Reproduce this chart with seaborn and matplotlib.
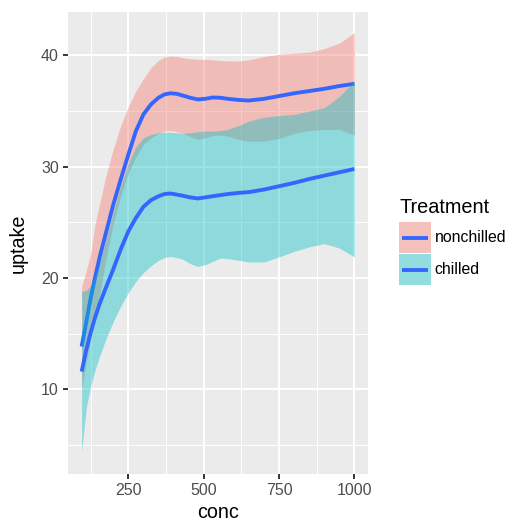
import matplotlib
matplotlib.use("Agg")
import matplotlib.pyplot as plt
from matplotlib.patches import Rectangle
from matplotlib.lines import Line2D
import seaborn as sns
import pandas as pd

# Smoothed CO2 uptake against ambient concentration, with confidence bands
conc = [95, 110, 125, 140, 155, 175, 200, 225, 250, 275, 300, 325, 350, 370, 390, 410,
        430, 455, 480, 505, 530, 555, 580, 615, 650, 700, 750, 800, 850, 900, 950, 1000]

nonchilled_fit = [13.85, 16.0, 18.2, 20.1, 21.9, 24.0, 26.6, 28.9, 31.1, 33.2, 34.7, 35.6,
                  36.2, 36.5, 36.6, 36.55, 36.4, 36.2, 36.05, 36.1, 36.22, 36.2, 36.1, 36.0,
                  35.95, 36.1, 36.35, 36.6, 36.8, 37.0, 37.25, 37.45]
nonchilled_lo = [10.0, 12.4, 14.6, 16.6, 18.6, 21.6, 24.9, 27.4, 29.4, 30.9, 32.0, 32.6,
                 33.0, 33.2, 33.25, 33.15, 33.0, 32.7, 32.45, 32.6, 32.8, 32.85, 32.75, 32.45,
                 32.3, 32.3, 32.55, 33.0, 33.25, 33.35, 33.35, 32.85]
nonchilled_hi = [19.3, 20.6, 22.2, 24.9, 26.7, 29.1, 31.6, 33.7, 35.4, 36.8, 37.9, 38.9,
                 39.55, 39.85, 39.95, 39.9, 39.8, 39.7, 39.65, 39.65, 39.6, 39.55, 39.5, 39.5,
                 39.6, 39.9, 40.1, 40.2, 40.3, 40.6, 41.1, 42.05]

chilled_fit = [11.6, 13.5, 15.1, 16.5, 17.7, 19.1, 20.8, 22.6, 24.2, 25.4, 26.4, 27.0,
               27.35, 27.55, 27.6, 27.5, 27.4, 27.25, 27.15, 27.25, 27.35, 27.45, 27.55, 27.65,
               27.72, 27.95, 28.25, 28.55, 28.9, 29.2, 29.5, 29.8]
chilled_lo = [4.4, 8.3, 10.3, 11.8, 13.0, 14.5, 16.1, 17.5, 18.7, 19.7, 20.5, 21.1,
              21.6, 21.85, 21.95, 21.85, 21.7, 21.3, 21.05, 21.2, 21.5, 21.8, 21.75, 21.6,
              21.45, 21.45, 21.9, 22.4, 22.8, 23.1, 22.7, 21.9]
chilled_hi = [18.8, 18.9, 19.3, 20.2, 21.4, 23.4, 25.9, 28.3, 30.3, 31.8, 32.6, 32.9,
              33.05, 33.1, 33.1, 33.05, 33.0, 33.05, 33.15, 33.2, 33.2, 33.25, 33.35, 33.7,
              34.1, 34.45, 34.6, 34.7, 35.0, 35.3, 36.3, 37.7]

treatments = ["nonchilled", "chilled"]
x_ticks = [250, 500, 750, 1000]
y_ticks = [10, 20, 30, 40]

df = pd.concat([
    pd.DataFrame({"conc": conc, "fit": nonchilled_fit, "lo": nonchilled_lo,
                  "hi": nonchilled_hi, "Treatment": "nonchilled"}),
    pd.DataFrame({"conc": conc, "fit": chilled_fit, "lo": chilled_lo,
                  "hi": chilled_hi, "Treatment": "chilled"}),
], ignore_index=True)

fills = {"nonchilled": "#F8766D", "chilled": "#00BFC4"}
line_color = "#3366FF"
bg = "#EBEBEB"

W, H = 513, 521
fig = plt.figure(figsize=(W / 100, H / 100), dpi=100)
fig.patch.set_facecolor("white")
plt.rcParams["font.family"] = ["Liberation Sans", "DejaVu Sans"]

px_l, px_r, px_t, px_b = 68, 368, 12, 474
ax = fig.add_axes([px_l / W, 1 - px_b / H, (px_r - px_l) / W, (px_b - px_t) / H])
ax.set_facecolor(bg)

# each group: band first, then its fitted line
z = 2
for t in treatments:
    sub = df[df["Treatment"] == t]
    ax.fill_between(sub["conc"], sub["lo"], sub["hi"], color=fills[t],
                    alpha=0.4, linewidth=0, zorder=z)
    sns.lineplot(data=sub, x="conc", y="fit", ax=ax, color=line_color,
                 linewidth=2.77, errorbar=None, zorder=z + 1,
                 solid_capstyle="butt", legend=False)
    z += 2

ax.set_xlim(49.75, 1045.25)
ax.set_ylim(2.4, 43.9)
ax.set_xticks(x_ticks)
ax.set_yticks(y_ticks)
ax.set_xticks([125, 375, 625, 875], minor=True)
ax.set_yticks([5, 15, 25, 35], minor=True)
ax.grid(which="major", color="white", linewidth=1.38)
ax.grid(which="minor", color="white", linewidth=0.69)
ax.set_axisbelow(True)
for s in ax.spines.values():
    s.set_visible(False)
ax.tick_params(which="major", length=3.6, width=1.38, color="#333333",
               labelsize=11.5, labelcolor="#4D4D4D", pad=2.9)
ax.tick_params(which="minor", length=0)
ax.set_xlabel("")
ax.set_ylabel("")

fig.text(218 / W, 1 - 517.5 / H, "conc", ha="center", va="baseline",
         fontsize=14.2, color="black")
fig.text(18 / W, 1 - 243 / H, "uptake", ha="center", va="center",
         rotation=90, fontsize=14.2, color="black")

# Legend
fig.text(399 / W, 1 - 207.5 / H, "Treatment", ha="left", va="center",
         fontsize=14.3, color="black")
key_x0, key_w, key_h = 399.3, 31.4, 31
key_tops = [222, 254]
for t, top in zip(treatments, key_tops):
    fig.add_artist(Rectangle((key_x0 / W, 1 - (top + key_h) / H), key_w / W, key_h / H,
                             transform=fig.transFigure, facecolor="#F2F2F2",
                             edgecolor="none"))
    fig.add_artist(Rectangle((key_x0 / W, 1 - (top + key_h) / H), key_w / W, key_h / H,
                             transform=fig.transFigure, facecolor=fills[t], alpha=0.4,
                             edgecolor="none"))
    yc = 1 - (top + key_h / 2) / H
    fig.add_artist(Line2D([(key_x0 + 2.5) / W, (key_x0 + key_w - 2.5) / W], [yc, yc],
                          transform=fig.transFigure, color=line_color, linewidth=2.77,
                          solid_capstyle="butt"))
    fig.text(434.5 / W, yc, t, ha="left", va="center", fontsize=11.4, color="black")

fig.savefig("out.png", dpi=100)
